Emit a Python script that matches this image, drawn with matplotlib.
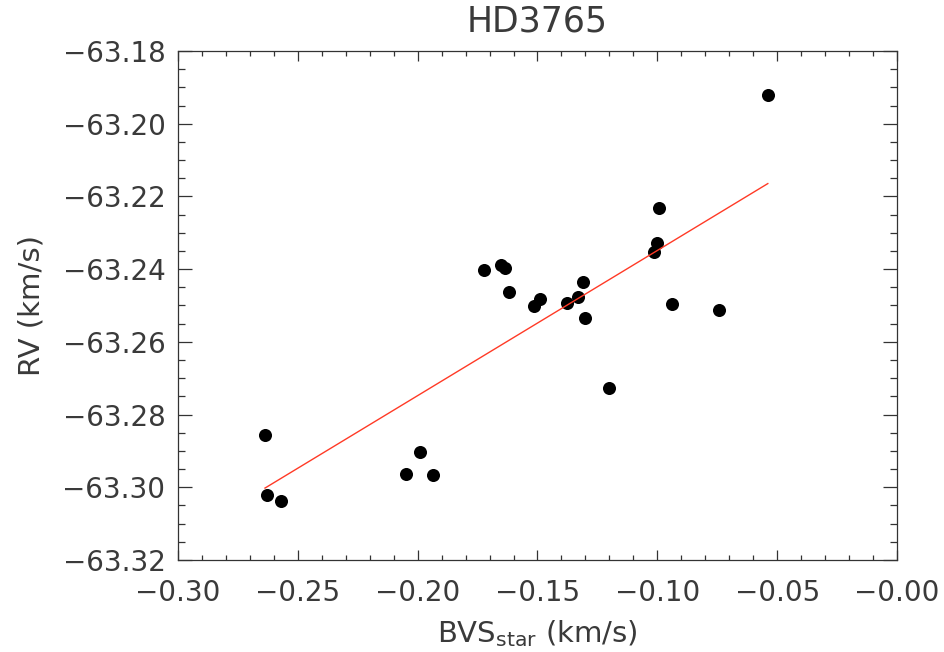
import numpy as np
import matplotlib
matplotlib.use("Agg")
import matplotlib.pyplot as plt
from matplotlib.ticker import MultipleLocator, FuncFormatter

# BVS of the star (km/s) and radial velocity (km/s)
bvs = [-0.2637, -0.2629, -0.2570, -0.2049, -0.1990, -0.1936, -0.1723,
       -0.1652, -0.1636, -0.1619, -0.1515, -0.1490, -0.1377, -0.1331,
       -0.1310, -0.1302, -0.1202, -0.1014, -0.1002, -0.0993, -0.0939,
       -0.0743, -0.0539]
rv = [-63.2856, -63.3021, -63.3038, -63.2963, -63.2903, -63.2966, -63.2402,
      -63.2389, -63.2397, -63.2463, -63.2501, -63.2482, -63.2493, -63.2477,
      -63.2435, -63.2534, -63.2727, -63.2353, -63.2328, -63.2232, -63.2496,
      -63.2512, -63.1921]

bvs = np.array(bvs)
rv = np.array(rv)

# linear fit across the data range
coef = np.polyfit(bvs, rv, 1)
xfit = np.array([bvs.min(), bvs.max()])
yfit = np.polyval(coef, xfit)

txt = "#3a3a3a"
plt.rcParams["font.family"] = ["DejaVu Sans"]
plt.rcParams["mathtext.fontset"] = "dejavusans"

fig = plt.figure(figsize=(9.45, 6.52), dpi=100)
ax = fig.add_axes([178 / 945, 1 - 560 / 652, 719 / 945, 509 / 652])

ax.plot(bvs, rv, "o", color="black", markersize=9.4, markeredgewidth=0)
ax.plot(xfit, yfit, color="#ff3a26", linewidth=1.0)

ax.set_xlim(-0.30, 0.0)
ax.set_ylim(-63.32, -63.18)

ax.xaxis.set_major_locator(MultipleLocator(0.05))
ax.xaxis.set_minor_locator(MultipleLocator(0.01))
ax.yaxis.set_major_locator(MultipleLocator(0.02))
ax.yaxis.set_minor_locator(MultipleLocator(0.005))

neg = lambda v, p: "\u2212" + f"{abs(v):.2f}"
ax.xaxis.set_major_formatter(FuncFormatter(neg))
ax.yaxis.set_major_formatter(FuncFormatter(neg))

ax.tick_params(axis="both", which="both", direction="in", top=True, right=True,
               colors="#333333", labelcolor=txt, labelsize=20, width=0.9)
ax.tick_params(axis="x", which="major", length=7.5, pad=14)
ax.tick_params(axis="x", which="minor", length=3.8)
ax.tick_params(axis="y", which="major", length=10, pad=9)
ax.tick_params(axis="y", which="minor", length=5)
for s in ax.spines.values():
    s.set_color("#333333")
    s.set_linewidth(0.9)

ax.set_title("HD3765", fontsize=25, color=txt, pad=14)
ax.set_xlabel(r"BVS$_{\rm star}$ (km/s)", fontsize=21, color=txt, labelpad=8)
ax.set_ylabel("RV (km/s)", fontsize=21, color=txt, labelpad=12)

fig.savefig("out.png", dpi=100)
